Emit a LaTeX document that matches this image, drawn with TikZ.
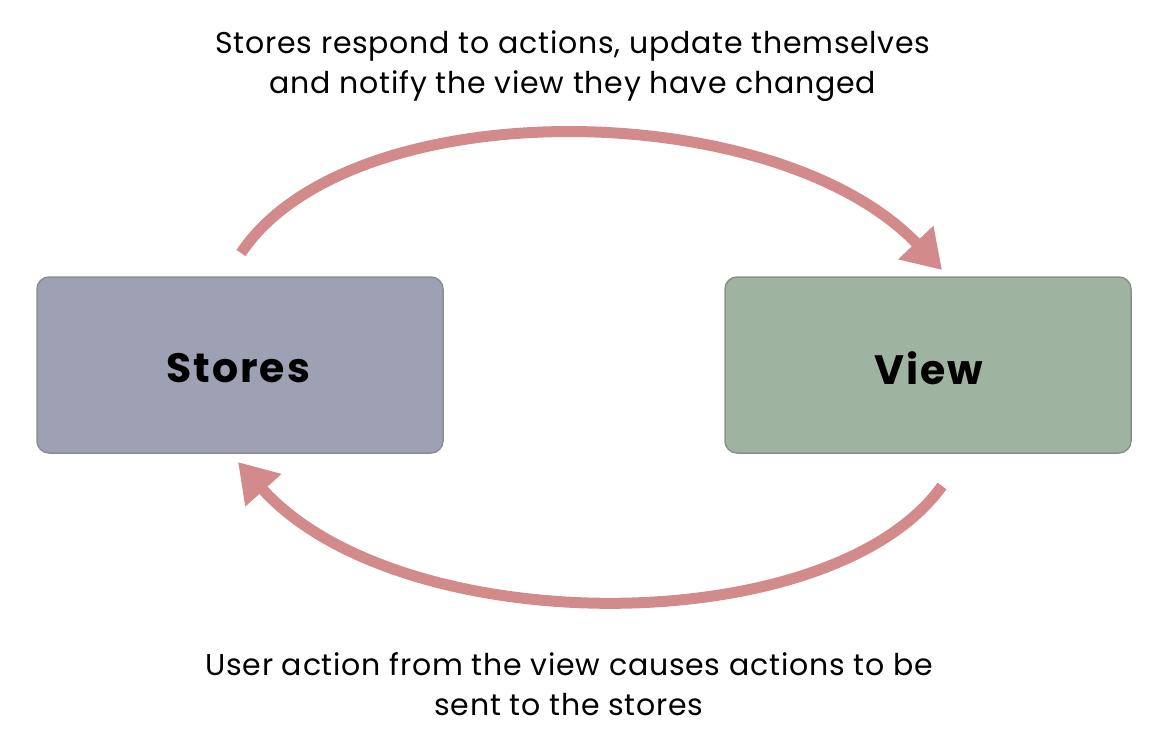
\documentclass[tikz,border=0pt]{standalone}
\usepackage{fontspec}
\setmainfont{Poppins}
\newfontfamily\captionfont[LetterSpace=2.5]{Poppins}
\newfontfamily\labelfont[LetterSpace=5]{Poppins}
\usetikzlibrary{arrows.meta}
\definecolor{storefill}{HTML}{9EA0B4}
\definecolor{viewfill}{HTML}{9EB4A0}
\definecolor{boxedge}{HTML}{8E8E8E}
\definecolor{arrowred}{HTML}{D38A8A}
\tikzset{
  box/.style={draw=boxedge, line width=1.5pt, rounded corners=12pt, minimum width=406pt, minimum height=176pt, inner sep=0pt},
  flow/.style={draw=arrowred, line width=11pt, -{Triangle[length=38pt,width=46pt]}},
  caption/.style={align=center, font=\captionfont\fontsize{30}{40}\selectfont, inner sep=0pt},
  boxlabel/.style={font=\labelfont\fontsize{41}{44}\selectfont\bfseries}
}
\begin{document}
\begin{tikzpicture}[x=1pt,y=-1pt]
\useasboundingbox (0,0) rectangle (1166,740);
\node[box, fill=storefill] (stores) at (240,365) {};
\node[boxlabel] (storeslabel) at (238,368) {Stores};
\node[box, fill=viewfill] (view) at (928,365) {};
\node[boxlabel] (viewlabel) at (929,368) {View};
\coordinate (s1) at (241,253);
\coordinate (t1) at (942,270);
\coordinate (s2) at (942,486);
\coordinate (t2) at (238,462);
\draw[flow] (s1) .. controls (350,90) and (775,95) .. (t1);
\draw[flow] (s2) .. controls (830,642) and (400,642) .. (t2);
\node[caption] (top) at (573,66) {Stores respond to actions, update themselves\\and notify the view they have changed};
\node[caption] (bottom) at (569,684) {User action from the view causes actions to be\\sent to the stores};
\end{tikzpicture}
\end{document}
